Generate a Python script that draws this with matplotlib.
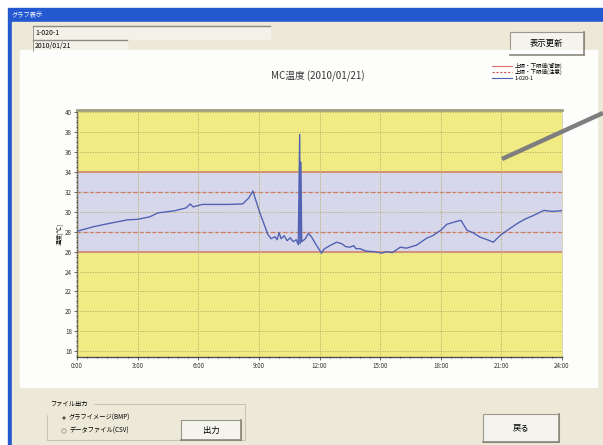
import matplotlib
matplotlib.use('Agg')
import matplotlib.pyplot as plt
from matplotlib.patches import Rectangle, Circle

plt.rcParams['font.family'] = ['Noto Sans CJK JP', 'DejaVu Sans']

# data (hour of day, temperature)
hours = [0, 0.8, 1.5, 2.5, 3.0, 3.6, 4.0, 4.8, 5.4, 5.6, 5.75, 6.2, 7.5, 8.2, 8.5, 8.7,
         9.05, 9.45, 9.5, 9.6, 9.8, 9.9, 10.0, 10.1, 10.25, 10.4, 10.55, 10.7, 10.85, 10.95,
         11.02, 11.05, 11.08, 11.12, 11.3, 11.45, 11.6, 11.8, 12.1, 12.2, 12.3, 12.6, 12.85,
         13.1, 13.3, 13.5, 13.7, 13.8, 14.0, 14.3, 14.7, 15.1, 15.3, 15.6, 16.0, 16.3, 16.8,
         17.3, 17.6, 18.0, 18.3, 18.7, 19.0, 19.3, 19.6, 19.95, 20.3, 20.6, 20.95, 21.4,
         21.8, 22.2, 22.6, 23.1, 23.5, 23.9, 24.0]
temps = [28.05, 28.5, 28.8, 29.2, 29.25, 29.5, 29.9, 30.1, 30.4, 30.8, 30.5, 30.75, 30.75, 30.8, 31.4, 32.1,
         29.9, 27.7, 27.6, 27.3, 27.5, 27.2, 27.9, 27.3, 27.6, 27.1, 27.4, 27.0, 27.2, 26.7,
         37.8, 26.8, 35.0, 27.0, 27.3, 27.85, 27.5, 26.8, 25.85, 26.2, 26.35, 26.7, 26.95,
         26.8, 26.5, 26.45, 26.6, 26.3, 26.3, 26.05, 26.0, 25.85, 26.0, 25.9, 26.45, 26.35, 26.65,
         27.35, 27.6, 28.15, 28.75, 29.0, 29.15, 28.15, 27.9, 27.45, 27.2, 26.95, 27.65, 28.3,
         28.85, 29.3, 29.65, 30.15, 30.05, 30.1, 30.15]

alarm_lo, alarm_hi = 26, 34
notice_lo, notice_hi = 28, 32
xticks = [0, 3, 6, 9, 12, 15, 18, 21, 24]
xlabels = ['0:00', '3:00', '6:00', '9:00', '12:00', '15:00', '18:00', '21:00', '24:00']
yticks = list(range(16, 41, 2))

W, H = 603, 445
fig = plt.figure(figsize=(W / 100, H / 100), dpi=100)

# window chrome, drawn in pixel coords
bg = fig.add_axes([0, 0, 1, 1])
bg.set_xlim(0, W)
bg.set_ylim(H, 0)
bg.axis('off')
bg.add_patch(Rectangle((0, 0), W, H, color='white'))
bg.add_patch(Rectangle((8, 8), W, H, color='#2458D0'))
bg.add_patch(Rectangle((12, 22), W, H, color='#ECE9D8'))
bg.text(12, 15, 'グラフ表示', color='white', fontsize=4.5, va='center')

# text fields
bg.add_patch(Rectangle((33, 26), 237, 13, color='#F3F1E8'))
bg.plot([33, 270], [26, 26], color='#8C8A80', lw=1)
bg.plot([33, 33], [26, 39], color='#8C8A80', lw=0.6)
bg.text(35, 33, '1-020-1', fontsize=5, va='center')
bg.add_patch(Rectangle((33, 40), 94, 11, color='#F3F1E8'))
bg.plot([33, 127], [40, 40], color='#8C8A80', lw=1)
bg.plot([33, 33], [40, 51], color='#8C8A80', lw=0.6)
bg.text(35, 46, '2010/01/21', fontsize=5, va='center')

def button(x, y, w, h, label):
    bg.add_patch(Rectangle((x, y), w, h, facecolor='#F4F3EE', edgecolor='#9A988C', lw=0.8))
    bg.plot([x + w, x + w], [y, y + h], color='#8A887C', lw=1.2)
    bg.plot([x, x + w], [y + h, y + h], color='#8A887C', lw=1.2)
    bg.text(x + w / 2, y + h / 2, label, fontsize=6, ha='center', va='center')

button(510, 32, 74, 23, '表示更新')

# white chart panel
bg.add_patch(Rectangle((20, 50), 577, 337, color='#FDFDFB'))
bg.text(318, 76, 'MC温度 (2010/01/21)', fontsize=7, ha='center', va='center', color='#333333')
bg.text(59, 234, '温度[℃]', fontsize=4.3, rotation=90, ha='center', va='center')

# legend
bg.plot([492, 512], [66, 66], color='#E07070', lw=0.8)
bg.plot([492, 512], [72, 72], color='#D05050', lw=0.8, ls=(0, (2, 1.5)))
bg.plot([492, 512], [78, 78], color='#5060B0', lw=0.8)
bg.text(515, 66, '上限・下限値(警報)', fontsize=4.0, va='center')
bg.text(515, 72, '上限・下限値(注意)', fontsize=4.0, va='center')
bg.text(515, 78, '1-020-1', fontsize=4.0, va='center')

# bottom controls
bg.add_patch(Rectangle((47, 404), 198, 36, facecolor='none', edgecolor='#C8C5B8', lw=0.8))
bg.text(50, 404, 'ファイル出力', fontsize=4.5, va='center', backgroundcolor='#ECE9D8')
bg.add_patch(Circle((64, 418), 1.6, facecolor='#555555', edgecolor='none'))
bg.add_patch(Circle((64, 431), 2.2, facecolor='none', edgecolor='#888888', lw=0.5))
bg.text(69, 418, 'グラフイメージ(BMP)', fontsize=4.5, va='center')
bg.text(69, 431, 'データファイル(CSV)', fontsize=4.5, va='center')
button(181, 420, 60, 20, '出力')
button(483, 414, 76, 28, '戻る')

# chart axes
ax = fig.add_axes([77 / W, 1 - 357 / H, 485 / W, 247 / H])
ax.set_facecolor('#F0EB82')
ax.axhspan(alarm_lo, alarm_hi, color='#D7D7EB', zorder=0)
for v in (alarm_lo, alarm_hi):
    ax.axhline(v, color='#DC8470', lw=1.3, zorder=2)
for v in (notice_lo, notice_hi):
    ax.axhline(v, color='#E05A5A', lw=0.9, ls=(0, (3, 2)), zorder=2)
ax.plot(hours, temps, color='#5262B2', lw=1.0, zorder=3)

ax.set_xlim(0, 24)
ax.set_ylim(15.4, 40.25)
ax.set_xticks(xticks)
ax.set_xticklabels(xlabels)
ax.set_yticks(yticks)
ax.set_xticks([h * 0.5 for h in range(49)], minor=True)
ax.set_yticks([v * 0.5 for v in range(31, 81)], minor=True)
ax.tick_params(labelsize=4.5, length=2, width=0.5, pad=1.5, colors='#333333')
ax.tick_params(which='minor', length=1, width=0.4)
ax.grid(True, which='major', color='#B4AC64', lw=0.6, ls=(0, (1.5, 1.5)))
ax.set_axisbelow(False)
for s in ('left', 'bottom'):
    ax.spines[s].set_color('#505050')
    ax.spines[s].set_linewidth(1.0)
ax.spines['top'].set_color('#A09E80')
ax.spines['top'].set_linewidth(2.0)
ax.spines['right'].set_color('#D0CDB0')
ax.spines['right'].set_linewidth(0.6)

# callout line on top
top = fig.add_axes([0, 0, 1, 1])
top.set_xlim(0, W)
top.set_ylim(H, 0)
top.axis('off')
top.plot([502, 603], [159, 113], color='#7E7E7E', lw=3.2, solid_capstyle='butt')

fig.savefig('out.png', dpi=100)
